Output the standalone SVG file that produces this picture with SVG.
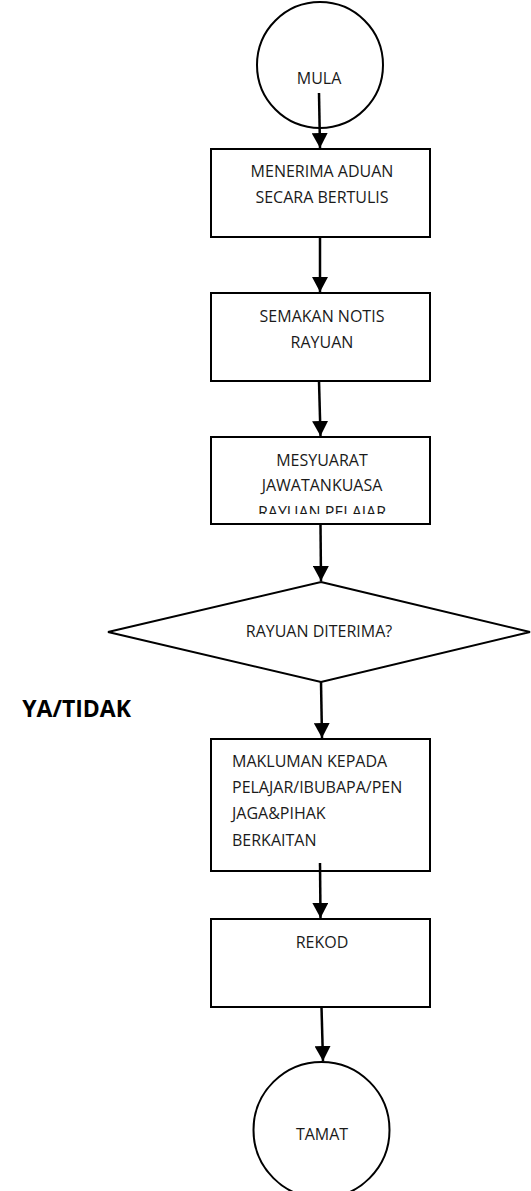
<svg xmlns="http://www.w3.org/2000/svg" width="531" height="1191" viewBox="0 0 531 1191">
<style>
.shape{fill:#fff;stroke:#000;stroke-width:2}
.t{font-family:"Open Sans","Liberation Sans",sans-serif;font-size:16px;fill:#1a1a1a}
.c{text-anchor:middle}
.conn line{stroke:#000;stroke-width:2.5}
.b{font-family:"Open Sans","Liberation Sans",sans-serif;font-size:23px;font-weight:bold;fill:#000}
</style>
<defs>
<marker id="ah" markerWidth="15" markerHeight="16" refX="15" refY="8" orient="auto" markerUnits="userSpaceOnUse" viewBox="0 0 15 16">
<path d="M0,0 L15,8 L0,16 Z" fill="#000"/>
</marker>
<clipPath id="clip3"><rect x="211" y="437" width="219" height="77"/></clipPath>
</defs>
<rect width="531" height="1191" fill="#fff"/>

<g id="mula">
<ellipse class="shape" cx="320" cy="65" rx="63" ry="63"/>
<text class="t c" x="319" y="84">MULA</text>
</g>

<g id="menerima">
<rect class="shape" x="211" y="149" width="219" height="88"/>
<text class="t c" x="322" y="177">MENERIMA ADUAN</text>
<text class="t c" x="322" y="203">SECARA BERTULIS</text>
</g>

<g id="semakan">
<rect class="shape" x="211" y="293" width="219" height="88"/>
<text class="t c" x="322" y="322">SEMAKAN NOTIS</text>
<text class="t c" x="322" y="348">RAYUAN</text>
</g>

<g id="mesyuarat">
<rect class="shape" x="211" y="437" width="219" height="87"/>
<g clip-path="url(#clip3)">
<text class="t c" x="322" y="466">MESYUARAT</text>
<text class="t c" x="322" y="491">JAWATANKUASA</text>
<text class="t c" x="322" y="518">RAYUAN PELAJAR</text>
</g>
</g>

<g id="keputusan">
<polygon class="shape" points="321,582 530,632 321,682 108,632"/>
<text class="t c" x="319" y="637">RAYUAN DITERIMA?</text>
</g>

<g id="ya-tidak">
<text class="b" x="131" y="717" text-anchor="end">YA/TIDAK</text>
</g>

<g id="makluman">
<rect class="shape" x="211" y="739" width="219" height="132"/>
<text class="t" x="232" y="767">MAKLUMAN KEPADA</text>
<text class="t" x="232" y="793">PELAJAR/IBUBAPA/PEN</text>
<text class="t" x="232" y="819">JAGA&amp;PIHAK</text>
<text class="t" x="232" y="846">BERKAITAN</text>
</g>

<g id="rekod">
<rect class="shape" x="211" y="919" width="219" height="88"/>
<text class="t c" x="322" y="948">REKOD</text>
</g>

<g id="tamat">
<ellipse class="shape" cx="321.5" cy="1130" rx="68" ry="68"/>
<text class="t c" x="322" y="1140">TAMAT</text>
</g>

<g id="connectors" class="conn">
<line x1="319" y1="93" x2="320" y2="148" marker-end="url(#ah)"/>
<line x1="320" y1="237" x2="320" y2="292" marker-end="url(#ah)"/>
<line x1="319" y1="381" x2="320.5" y2="436" marker-end="url(#ah)"/>
<line x1="320.5" y1="524" x2="321" y2="581" marker-end="url(#ah)"/>
<line x1="321" y1="682" x2="322" y2="738" marker-end="url(#ah)"/>
<line x1="320" y1="863" x2="320.5" y2="918" marker-end="url(#ah)"/>
<line x1="321.5" y1="1007" x2="323" y2="1061" marker-end="url(#ah)"/>
</g>
</svg>
